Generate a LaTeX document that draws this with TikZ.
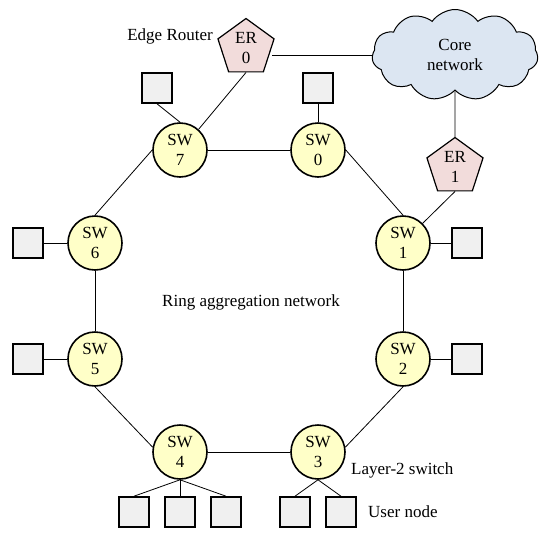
\documentclass[tikz,border=0pt]{standalone}
\usepackage{fontspec}
\setmainfont{Liberation Serif}
\usetikzlibrary{shapes.geometric,shapes.symbols}
\definecolor{swfill}{RGB}{255,255,200}
\definecolor{erfill}{RGB}{242,220,219}
\definecolor{cloudfill}{RGB}{220,230,242}
\definecolor{sqfill}{RGB}{240,240,240}
\begin{document}
\begin{tikzpicture}[x=1pt,y=-1pt,
  every node/.style={font=\fontsize{17}{20.5}\selectfont},
  switch/.style={circle,draw,line width=1.6pt,fill=swfill,minimum size=54pt,inner sep=0pt,align=center},
  router/.style={regular polygon,regular polygon sides=5,draw,line width=1.2pt,fill=erfill,minimum size=59pt,inner sep=0pt,align=center},
  user/.style={rectangle,draw,line width=1.6pt,fill=sqfill,minimum size=30pt,inner sep=0pt},
  link/.style={line width=0.8pt},
  lbl/.style={inner sep=0pt}]
\useasboundingbox (0,0) rectangle (550,539);
% switches
\node[switch] (sw0) at (318,150) {SW\\0};
\node[switch] (sw1) at (403,243) {SW\\1};
\node[switch] (sw2) at (403,359) {SW\\2};
\node[switch] (sw3) at (318,452) {SW\\3};
\node[switch] (sw4) at (180,452) {SW\\4};
\node[switch] (sw5) at (95,359) {SW\\5};
\node[switch] (sw6) at (95,243) {SW\\6};
\node[switch] (sw7) at (180,150) {SW\\7};
% routers and core
\node[router] (er0) at (246,48) {ER\\0};
\node[router] (er1) at (455,167) {ER\\1};
\node[cloud,draw,line width=1pt,fill=cloudfill,cloud puffs=11,cloud puff arc=110,aspect=1.8,minimum width=166pt,minimum height=91pt,align=center,inner sep=0pt] (core) at (455,55) {Core\\network};
% user nodes
\node[user] (u0) at (318,88) {};
\node[user] (u7) at (157,88) {};
\node[user] (u1) at (467,243) {};
\node[user] (u2) at (467,359) {};
\node[user] (u6) at (28,243) {};
\node[user] (u5) at (28,359) {};
\node[user] (u4a) at (134,512) {};
\node[user] (u4b) at (180,512) {};
\node[user] (u4c) at (226,512) {};
\node[user] (u3a) at (295,512) {};
\node[user] (u3b) at (341,512) {};
% labels
\node[lbl,anchor=east] (lblER) at (213,36) {Edge Router};
\node[lbl] (lblRing) at (251,302) {Ring aggregation network};
\node[lbl,anchor=west] (lblL2) at (351,470) {Layer-2 switch};
\node[lbl,anchor=west] (lblUser) at (368,512) {User node};
% ring links
\draw[link] (sw7) -- (sw0);
\draw[link] (sw0.east) -- (sw1.north);
\draw[link] (sw1) -- (sw2);
\draw[link] (sw2.south) -- (sw3.10);
\draw[link] (sw3) -- (sw4);
\draw[link] (sw4.170) -- (sw5.south);
\draw[link] (sw5) -- (sw6);
\draw[link] (sw6.north) -- (sw7.west);
% router links
\draw[link] (core.west) -- (core.west -| er0.east);
\draw[link] (core) -- (er1);
\draw[link] (er0.south) -- (sw7.48);
\draw[link] (er1.south) -- (sw1.45);
% user links
\draw[link] (u0) -- (sw0);
\draw[link] (u7.south) -- (sw7.north);
\draw[link] (u1) -- (sw1);
\draw[link] (u2) -- (sw2);
\draw[link] (u6) -- (sw6);
\draw[link] (u5) -- (sw5);
\draw[link] (sw4.south) -- (u4a.north);
\draw[link] (sw4.south) -- (u4b.north);
\draw[link] (sw4.south) -- (u4c.north);
\draw[link] (sw3.south) -- (u3a.north);
\draw[link] (sw3.south) -- (u3b.north);
\end{tikzpicture}
\end{document}
